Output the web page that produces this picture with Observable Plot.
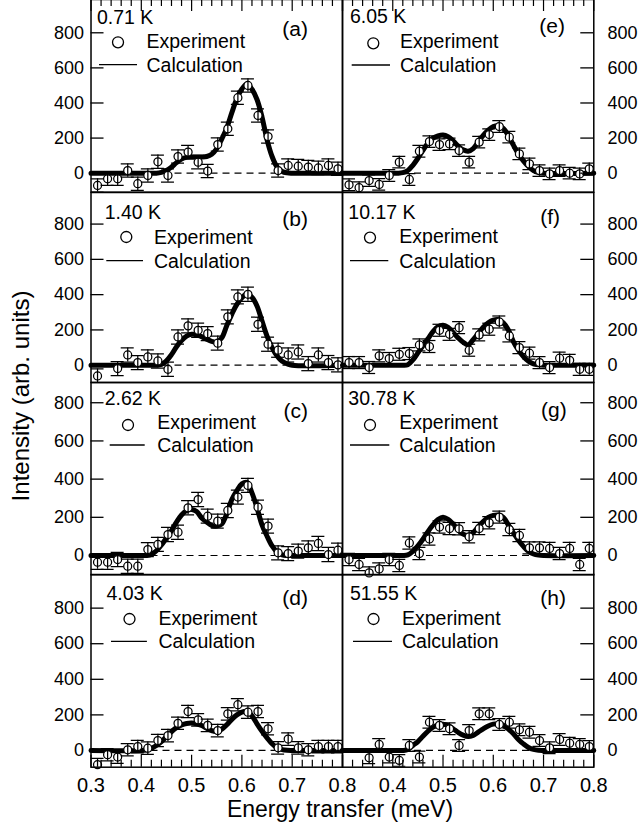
<!DOCTYPE html>
<html><head><meta charset="utf-8">
<script src="https://cdn.jsdelivr.net/npm/d3@7"></script>
<script src="https://cdn.jsdelivr.net/npm/@observablehq/plot@0.6"></script>
<style>
body{margin:0;background:#fff;}
#fig{position:relative;width:638px;height:828px;background:#fff;overflow:hidden;}
#fig svg{position:absolute;left:0;overflow:visible;}
</style></head><body><div id="fig"></div>
<script>
// ---------- data ----------
const energy = [0.313,0.333,0.353,0.373,0.393,0.413,0.433,0.453,0.473,0.493,0.513,0.532,0.552,0.572,0.592,0.612,0.632,0.652,0.672,0.692,0.712,0.732,0.752,0.772,0.791];
const intensityA = [-70,-32,-32,15,-60,-13,65,-13,95,120,63,12,163,253,430,500,329,209,15,44,40,35,30,44,25];
const intensityB = [-61,null,-19,58,15,47,24,-23,160,223,198,179,125,274,387,402,232,119,85,58,75,9,58,15,2];
const intensityC = [-35,-35,-21,-56,-56,31,58,110,122,250,293,206,180,236,306,367,253,154,14,10,23,40,63,5,28];
const intensityD = [-80,-24,-37,4,22,13,56,84,153,219,172,141,112,206,257,215,219,122,15,64,15,4,22,22,22];
const intensityE = [-66,-83,-42,-64,-13,63,-36,125,180,163,167,129,63,177,220,266,205,110,53,15,-4,15,0,-4,25];
const intensityF = [15,15,-13,53,38,62,66,115,106,198,175,213,85,172,204,245,166,100,68,15,-13,40,28,-23,-23];
const intensityG = [-21,-47,-91,-70,-21,-52,66,10,87,149,141,140,98,141,171,201,136,105,40,40,37,10,37,-47,37];
const intensityH = [null,null,-41,34,-37,-56,28,-37,159,141,122,28,112,206,206,146,159,116,103,56,15,62,41,34,22];
const errorBars = [38,40,37,35,33,34,32,33]; // a..h

const calcEnergy = [0.30,0.40,0.41,0.42,0.43,0.44,0.45,0.46,0.47,0.48,0.49,0.50,0.51,0.52,0.53,0.54,0.55,0.56,0.57,0.58,0.59,0.60,0.61,0.62,0.63,0.64,0.65,0.66,0.67,0.68,0.69,0.70,0.80];
const calcA = [0, 0,0,0,0,5,15,35,60,80,90, 92,92,92,95,108,140,195,258,345,425, 480,508,478,420,320,190,95,35,10,2, 0, 0];
const calcB = [0, 0,0,0,0,5,25,60,105,140,165, 175,173,162,147,135,130,155,225,290,345, 382,403,385,336,250,165,100,52,22,8, 0, 0];
const calcC = [0, 0,0,5,25,55,92,130,175,212,235, 241,230,197,176,157,154,165,220,293,340, 375,383,328,250,160,101,50,18,3,0, 0, 0];
const calcD = [0, 0,3,12,28,50,78,105,128,143,152, 155,150,140,125,112,105,120,145,175,200, 216,220,195,150,108,71,38,15,5,1, 0, 0];
const calcE = [0, 0,0,3,15,45,85,130,172,200,213, 218,208,185,155,133,125,140,178,215,245, 265,270,255,215,160,110,70,38,15,4, 0, 0];
const calcF = [0, 0,0,0,3,30,70,110,150,190,218, 226,215,185,155,130,115,145,180,215,240, 255,258,240,200,134,85,49,22,7,2, 0, 0];
const calcG = [0, 0,0,0,3,22,50,85,125,160,188, 201,190,165,135,112,105,120,150,178,200, 210,212,200,160,119,80,48,22,8,2, 0, 0];
const calcH = [0, 0,0,0,5,28,50,80,108,131,143, 148,140,122,102,86,78,85,103,122,138, 148,150,142,120,94,62,37,17,6,1, 0, 0];

const temperatures = ["0.71 K","1.40 K","2.62 K","4.03 K","6.05 K","10.17 K","30.78 K","51.55 K"];
const panelLetters = ["(a)","(b)","(c)","(d)","(e)","(f)","(g)","(h)"];
const legendLabels = ["Experiment","Calculation"];
const yTicks = [0,200,400,600,800];
const xTicksMajor = [0.3,0.4,0.5,0.6,0.7,0.8];
const xTicksMinor = [0.32,0.34,0.36,0.38,0.42,0.44,0.46,0.48,0.52,0.54,0.56,0.58,0.62,0.64,0.66,0.68,0.72,0.74,0.76,0.78];
const xLabelsLeft = [0.3,0.4,0.5,0.6,0.7,0.8];
const xLabelsRight = [0.4,0.5,0.6,0.7,0.8];

// ---------- layout ----------
const FONT = "'Liberation Sans', Arial, Helvetica, sans-serif";
const W = 638, H = 828;
const rowTop = [-1, 191.7, 381.7, 574];
const rowBottom = [191.7, 381.7, 574, 766.7];
const rowDomain = [[-108.3, 989.7], [-98, 979], [-101, 906], [-94, 989]];
const colLeft = [90.5, 342], colRight = [342, 593.3];
// legend offsets per panel (relative to panel frame top-left)
const legendPos = [
  {tx:6.5,ty:25,  lx:217.5,ly:37,  cx:27.5,cy:43.3,textX:56,  eb:49.3,l1:8.5, l2:46.5,cb:72.7},
  {tx:14.2,ty:26.6,lx:217.5,ly:33.5,cx:35.8,cy:45,textX:63.5,eb:51.6,l1:15.8,l2:52.5,cb:75.6},
  {tx:14.2,ty:23,  lx:217.5,ly:36,  cx:37.5,cy:43,textX:66.8,eb:47.5,l1:19.2,l2:54.2,cb:70},
  {tx:16,ty:26,    lx:217.5,ly:31,  cx:39,cy:45,  textX:68,  eb:51,  l1:20.5,l2:56.4,cb:74.3},
  {tx:8,ty:24.3,   lx:223,ly:34,    cx:31.3,cy:44.3,textX:58,eb:49.3,l1:9.7, l2:48,  cb:73},
  {tx:6.3,ty:26.6, lx:218,ly:32,    cx:28,cy:45.6,textX:57.3,eb:51,  l1:8,   l2:46.3,cb:75.6},
  {tx:6.3,ty:23,   lx:224.7,ly:35.3,cx:28,cy:43,  textX:57.3,eb:47.5,l1:8,   l2:47.3,cb:70},
  {tx:8,ty:26,     lx:224,ly:31,    cx:31.5,cy:45,textX:60,  eb:51,  l1:11,  l2:50,  cb:74.3}
];

const series = [intensityA,intensityB,intensityC,intensityD,intensityE,intensityF,intensityG,intensityH];
const calcs = [calcA,calcB,calcC,calcD,calcE,calcF,calcG,calcH];

const fig = document.getElementById("fig");

series.forEach((vals, p) => {
  const col = p < 4 ? 0 : 1, row = p % 4;
  const err = errorBars[p];
  const top = rowTop[row], bottom = rowBottom[row];
  const isBottom = row === 3, isTop = row === 0;
  const ph = bottom - top, pw = colRight[col] - colLeft[col];
  const height = isBottom ? H - top : ph;
  const pts = energy.map((e, i) => ({e, v: vals[i]})).filter(d => d.v != null);
  const curve = calcEnergy.map((e, i) => ({e, v: calcs[p][i]}));
  const marks = [
    Plot.ruleY([0], {strokeDasharray: "7,5", strokeWidth: 1.2}),
    Plot.line(curve, {x: "e", y: "v", curve: "catmull-rom", strokeWidth: 5, stroke: "black", strokeLinejoin: "round"}),
    Plot.dot(pts, {x: "e", y: "v", r: 4, fill: "white", stroke: "black", strokeWidth: 1.25}),
    Plot.ruleX(pts, {x: "e", y1: d => d.v - err, y2: d => d.v + err, strokeWidth: 1.25, clip: true}),
    Plot.ruleY(pts, {y: d => d.v + err, x1: "e", x2: "e", insetLeft: -6.5, insetRight: -6.5, strokeWidth: 1.25, clip: true}),
    Plot.ruleY(pts, {y: d => d.v - err, x1: "e", x2: "e", insetLeft: -6.5, insetRight: -6.5, strokeWidth: 1.25, clip: true}),
    Plot.frame({strokeWidth: 1.5}),
    col === 0
      ? Plot.tickY(yTicks, {y: d => d, insetRight: pw - 13, strokeWidth: 1.3})
      : Plot.tickY(yTicks, {y: d => d, insetLeft: pw - 13, strokeWidth: 1.3}),
    Plot.axisY(yTicks, {anchor: col === 0 ? "left" : "right", tickSize: 0, tickPadding: col === 0 ? 7 : 13.7, fontSize: 18, label: null})
  ];
  if (isTop) {
    marks.push(Plot.tickX(xTicksMajor, {x: d => d, insetBottom: ph - 12, strokeWidth: 1.2}));
    marks.push(Plot.tickX(xTicksMinor, {x: d => d, insetBottom: ph - 7, strokeWidth: 1.2}));
  }
  if (isBottom) {
    marks.push(Plot.tickX(xTicksMajor, {x: d => d, insetTop: ph - 12, strokeWidth: 1.2}));
    marks.push(Plot.tickX(xTicksMinor, {x: d => d, insetTop: ph - 7, strokeWidth: 1.2}));
    marks.push(Plot.axisX(col === 0 ? xLabelsLeft : xLabelsRight, {anchor: "bottom", tickSize: 0, tickPadding: 11, fontSize: 20, label: null}));
  }
  const svgEl = Plot.plot({
    width: W, height,
    marginLeft: colLeft[col], marginRight: W - colRight[col],
    marginTop: 0, marginBottom: isBottom ? H - bottom : 0,
    x: {domain: [0.3, 0.8], ...(isBottom ? {} : {axis: null})},
    y: {domain: rowDomain[row]},
    style: {background: "transparent", overflow: "visible", fontFamily: FONT, fontSize: "18px", color: "black"},
    marks
  });
  svgEl.style.top = top + "px";
  fig.appendChild(svgEl);

  // legend block
  const L = legendPos[p];
  const g = d3.select(svgEl).append("g")
    .attr("transform", `translate(${colLeft[col]},0)`)
    .attr("font-family", FONT).attr("fill", "black");
  g.append("text").attr("x", L.tx).attr("y", L.ty).attr("font-size", 19.5).attr("text-anchor", "start").text(temperatures[p]);
  g.append("text").attr("x", L.lx).attr("y", L.ly).attr("font-size", 21).attr("text-anchor", "end").text(panelLetters[p]);
  g.append("circle").attr("cx", L.cx).attr("cy", L.cy).attr("r", 5.5).attr("fill", "none").attr("stroke", "black").attr("stroke-width", 1.3);
  g.append("text").attr("x", L.textX).attr("y", L.eb).attr("font-size", 19.5).attr("text-anchor", "start").text(legendLabels[0]);
  g.append("line").attr("x1", L.l1).attr("x2", L.l2).attr("y1", L.cb - 7).attr("y2", L.cb - 7).attr("stroke", "black").attr("stroke-width", 1.3);
  g.append("text").attr("x", L.textX).attr("y", L.cb).attr("font-size", 19.5).attr("text-anchor", "start").text(legendLabels[1]);
});

// axis titles
const titles = d3.select(fig).append("svg").attr("width", W).attr("height", H).style("top", "0px")
  .attr("font-family", FONT).attr("fill", "black");
titles.append("text").attr("x", 340).attr("y", 817).attr("text-anchor", "middle").attr("font-size", 23).text("Energy transfer (meV)");
titles.append("text").attr("transform", "translate(29,396) rotate(-90)").attr("text-anchor", "middle").attr("font-size", 24).text("Intensity (arb. units)");
</script></body></html>
